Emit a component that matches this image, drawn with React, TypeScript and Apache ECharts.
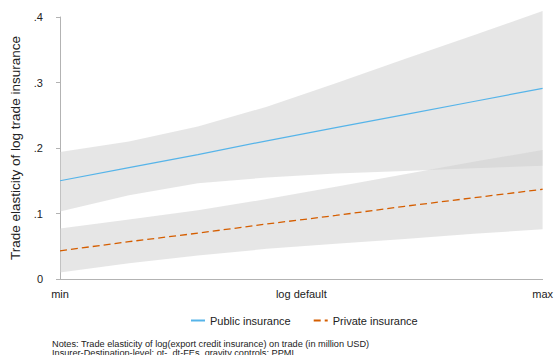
import React, { useEffect, useRef } from "react";
import * as echarts from "echarts";

// Evaluation points from the minimum to the maximum of log default
const xs = [0, 1, 2, 3, 4, 5, 6, 7];
const xTickLabels: Record<string, string> = { "0": "min", "3.5": "log default", "7": "max" };

// Public insurance: point estimate and 95% confidence band
const publicEst = [0.15, 0.17, 0.19, 0.211, 0.231, 0.251, 0.271, 0.291];
const publicLo = [0.103, 0.128, 0.146, 0.155, 0.161, 0.165, 0.169, 0.173];
const publicHi = [0.194, 0.21, 0.233, 0.263, 0.299, 0.336, 0.372, 0.409];

// Private insurance: point estimate and 95% confidence band
const privateEst = [0.043, 0.057, 0.07, 0.084, 0.097, 0.111, 0.124, 0.137];
const privateLo = [0.01, 0.024, 0.036, 0.046, 0.054, 0.061, 0.069, 0.076];
const privateHi = [0.077, 0.091, 0.105, 0.122, 0.141, 0.16, 0.179, 0.197];

const yTicks = [0, 0.1, 0.2, 0.3, 0.4];

const FONT = "'Liberation Sans', Arial, Helvetica, sans-serif";
const AXIS_GRAY = "#b3b3b3";
const TEXT = "#222";
const BAND = "rgba(207,207,207,0.52)";
const BLUE = "#56B4E9";
const ORANGE = "#D55E00";

const pairs = (ys: number[]) => xs.map((x, i) => [x, ys[i]]);

// Confidence band drawn as a single polygon: upper edge left to right, lower edge back
function bandSeries(name: string, lo: number[], hi: number[]) {
  return {
    type: "custom",
    name,
    data: xs.map((x, i) => [x, lo[i], hi[i]]),
    encode: { x: 0, y: [1, 2] },
    silent: true,
    clip: false,
    z: 1,
    renderItem: (params: any, api: any) => {
      if (params.dataIndex !== 0) return null;
      const upper = xs.map((x, i) => api.coord([x, hi[i]]));
      const lower = xs.map((x, i) => api.coord([x, lo[i]])).reverse();
      return {
        type: "polygon",
        shape: { points: upper.concat(lower) },
        style: { fill: BAND, stroke: "none" },
      };
    },
  };
}

export default function App() {
  const ref = useRef<HTMLDivElement>(null);

  useEffect(() => {
    if (!ref.current) return;
    const chart = echarts.init(ref.current, null, { renderer: "svg" });
    chart.setOption({
      animation: false,
      textStyle: { fontFamily: FONT },
      grid: { left: 60, right: 9, top: 17, bottom: 76 },
      xAxis: {
        type: "value",
        min: 0,
        max: 7,
        interval: 3.5,
        offset: 8,
        axisLine: { show: true, lineStyle: { color: AXIS_GRAY, width: 1 } },
        axisTick: { show: false },
        splitLine: { show: false },
        axisLabel: {
          margin: 1,
          color: TEXT,
          fontSize: 11,
          fontFamily: FONT,
          formatter: (v: number) => xTickLabels[String(v)] ?? "",
        },
      },
      yAxis: {
        type: "value",
        min: 0,
        max: 0.4,
        interval: 0.1,
        offset: 8,
        name: "Trade elasticity of log trade insurance",
        nameLocation: "middle",
        nameRotate: 90,
        nameGap: 18,
        nameTextStyle: { color: TEXT, fontSize: 13.5, fontFamily: FONT },
        axisLine: { show: true, lineStyle: { color: AXIS_GRAY, width: 1 } },
        axisTick: { show: true, length: 4, lineStyle: { color: AXIS_GRAY } },
        splitLine: { show: false },
        axisLabel: {
          margin: 9,
          color: TEXT,
          fontSize: 11,
          fontFamily: FONT,
          formatter: (v: number) => {
            const t = yTicks.find((k) => Math.abs(k - v) < 1e-9);
            if (t === undefined) return "";
            return t === 0 ? "0" : String(t).replace(/^0/, "");
          },
        },
      },
      legend: {
        data: ["Public insurance", "Private insurance"],
        left: 185,
        top: 310,
        itemWidth: 14,
        itemHeight: 10,
        itemGap: 22,
        itemStyle: { opacity: 0 },
        textStyle: { color: TEXT, fontSize: 11, fontFamily: FONT },
      },
      graphic: [
        {
          type: "text",
          left: 52,
          top: 339,
          style: {
            text:
              "Notes: Trade elasticity of log(export credit insurance) on trade (in million USD)\nInsurer-Destination-level: ot-, dt-FEs, gravity controls; PPML",
            fill: TEXT,
            font: `9.2px ${FONT}`,
            lineHeight: 9.2,
          },
        },
      ],
      series: [
        bandSeries("pub-band", publicLo, publicHi),
        bandSeries("prv-band", privateLo, privateHi),
        {
          type: "line",
          name: "Public insurance",
          data: pairs(publicEst),
          symbol: "none",
          lineStyle: { color: BLUE, width: 1.2, type: "solid" },
          itemStyle: { color: BLUE },
          clip: false,
          z: 3,
        },
        {
          type: "line",
          name: "Private insurance",
          data: pairs(privateEst),
          symbol: "none",
          lineStyle: { color: ORANGE, width: 1.3, type: [7, 4] },
          itemStyle: { color: ORANGE },
          clip: false,
          z: 3,
        },
      ],
    });
    return () => chart.dispose();
  }, []);

  return (
    <div
      ref={ref}
      style={{ position: "fixed", left: 0, top: 0, width: 556, height: 355, background: "#fff" }}
    />
  );
}
